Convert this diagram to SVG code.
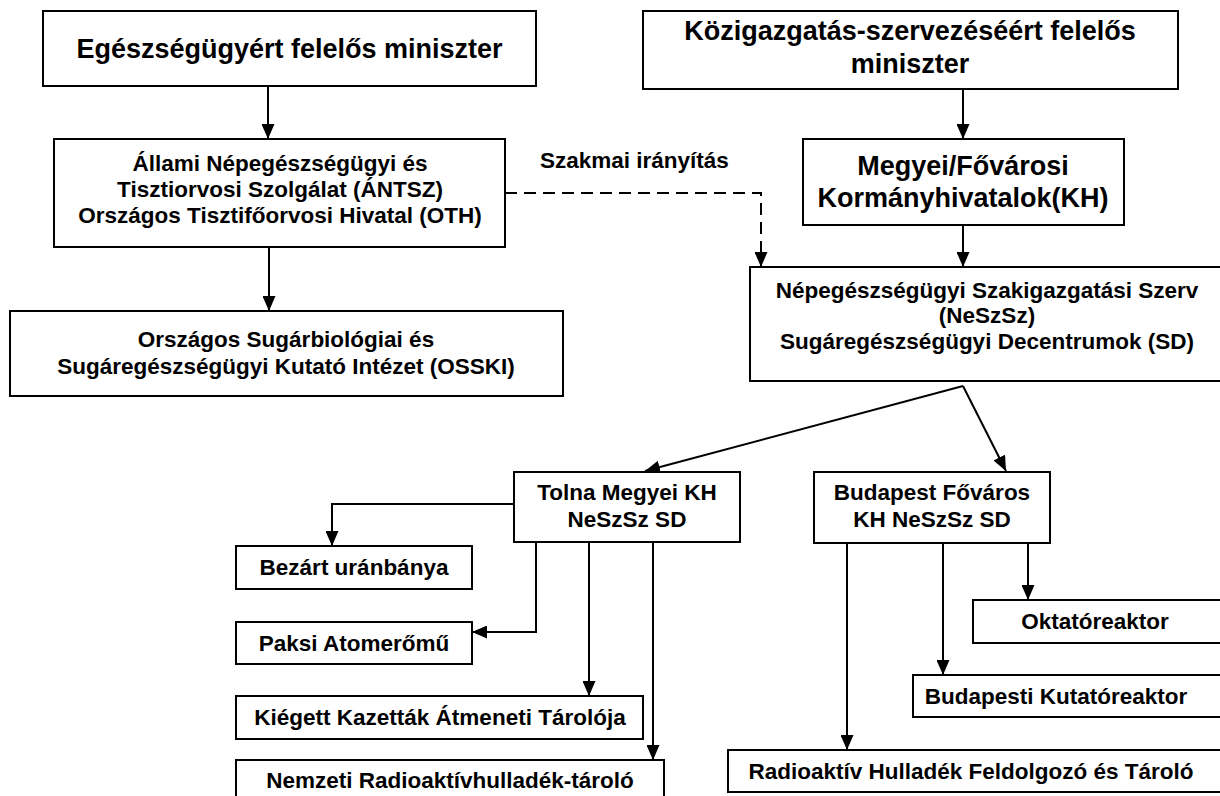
<svg xmlns="http://www.w3.org/2000/svg" width="1220" height="796" viewBox="0 0 1220 796">
<defs>
<marker id="ah" markerUnits="userSpaceOnUse" markerWidth="15" markerHeight="13" refX="15" refY="6.5" orient="auto">
<path d="M0,0 L15,6.5 L0,13 Z" fill="#000"/>
</marker>
<style>
.box{fill:#fff;stroke:#000;stroke-width:2}
.t{font-family:"Liberation Sans",Arial,sans-serif;font-weight:bold;font-size:22.5px;text-anchor:middle;fill:#000}
.tl{font-size:27px}
.c{stroke:#000;stroke-width:2;fill:none;marker-end:url(#ah)}
.d{stroke-dasharray:12 7}
</style>
</defs>
<rect width="1220" height="796" fill="#fff"/>
<g id="connectors">
<path class="c" d="M268,86 V139"/>
<path class="c" d="M963,89 V139"/>
<path class="c" d="M269,247 V311"/>
<path class="c" d="M963,225 V267"/>
<path class="c d" d="M505,193 H761 V267"/>
<path class="c" d="M963,386 L645,471"/>
<path class="c" d="M963,386 L1006,471"/>
<path class="c" d="M514,504 H332 V546"/>
<path class="c" d="M536,542 V632 H472"/>
<path class="c" d="M589,542 V696"/>
<path class="c" d="M653,542 V760"/>
<path class="c" d="M847,543 V750"/>
<path class="c" d="M943,543 V675"/>
<path class="c" d="M1028,543 V600"/>
<text class="t" x="540" y="168" style="text-anchor:start">Szakmai irányítás</text>
</g>
<g id="n1"><rect class="box" x="43" y="11" width="493" height="75"/><text class="t tl" x="289.5" y="58">Egészségügyért felelős miniszter</text></g>
<g id="n2"><rect class="box" x="643" y="11" width="535" height="78"/><text class="t tl" x="910" y="40">Közigazgatás-szervezéséért felelős</text><text class="t tl" x="910" y="73">miniszter</text></g>
<g id="n3"><rect class="box" x="54" y="139" width="451" height="108"/><text class="t" x="280" y="171">Állami Népegészségügyi és</text><text class="t" x="280" y="197">Tisztiorvosi Szolgálat (ÁNTSZ)</text><text class="t" x="280" y="223">Országos Tisztifőorvosi Hivatal (OTH)</text></g>
<g id="n4"><rect class="box" x="10" y="311" width="553" height="85"/><text class="t" x="286" y="347">Országos Sugárbiológiai és</text><text class="t" x="286" y="374">Sugáregészségügyi Kutató Intézet (OSSKI)</text></g>
<g id="n5"><rect class="box" x="803" y="139" width="321" height="86"/><text class="t tl" x="963" y="175">Megyei/Fővárosi</text><text class="t tl" x="963" y="207">Kormányhivatalok(KH)</text></g>
<g id="n6"><rect class="box" x="750" y="267" width="473" height="114"/><text class="t" x="987" y="298">Népegészségügyi Szakigazgatási Szerv</text><text class="t" x="987" y="323">(NeSzSz)</text><text class="t" x="987" y="349">Sugáregészségügyi Decentrumok (SD)</text></g>
<g id="n7"><rect class="box" x="514" y="472" width="226" height="70"/><text class="t" x="627" y="500">Tolna Megyei KH</text><text class="t" x="627" y="527">NeSzSz SD</text></g>
<g id="n8"><rect class="box" x="814" y="472" width="236" height="71"/><text class="t" x="932" y="500">Budapest Főváros</text><text class="t" x="932" y="527">KH NeSzSz SD</text></g>
<g id="n9"><rect class="box" x="236" y="546" width="236" height="43"/><text class="t" x="354" y="575">Bezárt uránbánya</text></g>
<g id="n10"><rect class="box" x="236" y="622" width="236" height="42"/><text class="t" x="354" y="651">Paksi Atomerőmű</text></g>
<g id="n11"><rect class="box" x="236" y="696" width="407" height="43"/><text class="t" x="440" y="725">Kiégett Kazetták Átmeneti Tárolója</text></g>
<g id="n12"><rect class="box" x="236" y="760" width="428" height="42"/><text class="t" x="450" y="788">Nemzeti Radioaktívhulladék-tároló</text></g>
<g id="n13"><rect class="box" x="973" y="600" width="250" height="43"/><text class="t" x="1095" y="629">Oktatóreaktor</text></g>
<g id="n14"><rect class="box" x="913" y="675" width="310" height="42"/><text class="t" x="1056" y="704">Budapesti Kutatóreaktor</text></g>
<g id="n15"><rect class="box" x="728" y="750" width="495" height="42"/><text class="t" x="971" y="779">Radioaktív Hulladék Feldolgozó és Tároló</text></g>
</svg>
